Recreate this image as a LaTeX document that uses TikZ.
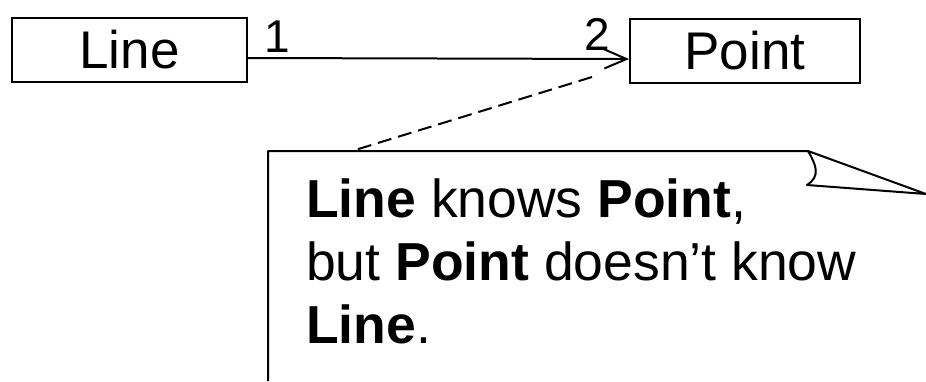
\documentclass[tikz,border=0pt]{standalone}
\usepackage{fontspec}
\setmainfont{Liberation Sans}
\usetikzlibrary{arrows.meta}
\begin{document}
\begin{tikzpicture}[x=1pt,y=-1pt,
  classbox/.style={draw,line width=2pt,minimum width=#1,minimum height=64pt,inner sep=0pt,
    font=\fontsize{53}{60}\selectfont},
  mult/.style={font=\fontsize{46}{50}\selectfont,inner sep=0pt},
  notetext/.style={font=\fontsize{53.5}{63}\selectfont,align=left,inner sep=0pt},
  edge/.style={line width=2pt}]
\useasboundingbox (0,0) rectangle (926,381);
% classes
\node[classbox=235pt] (line) at (129.5,50) {Line};
\node[classbox=230pt] (point) at (745,50.5) {Point};
% association with multiplicities
\draw[edge,-{Straight Barb[length=22pt,width=19pt,line width=2pt]}]
  ([yshift=-8pt]line.east) -- ([yshift=-8.5pt]point.west);
\node[mult,anchor=base west] (m1) at (264,52) {1};
\node[mult,anchor=base west] (m2) at (584,50) {2};
% note attached to the association
\coordinate (anchorpt) at (592,77);
\coordinate (notetop) at (352,151);
\draw[edge,dash pattern=on 14pt off 7pt] (anchorpt) -- (notetop);
\draw[edge,line join=round] (268,381) -- (268,151) -- (808,151) -- (926,194) -- (807,185)
  .. controls (821,176) and (816,165) .. (808,151);
\node[notetext,anchor=base west] (note) at (306,343)
  {\textbf{Line} knows \textbf{Point},\\but \textbf{Point} doesn’t know\\\textbf{Line}.};
\end{tikzpicture}
\end{document}
